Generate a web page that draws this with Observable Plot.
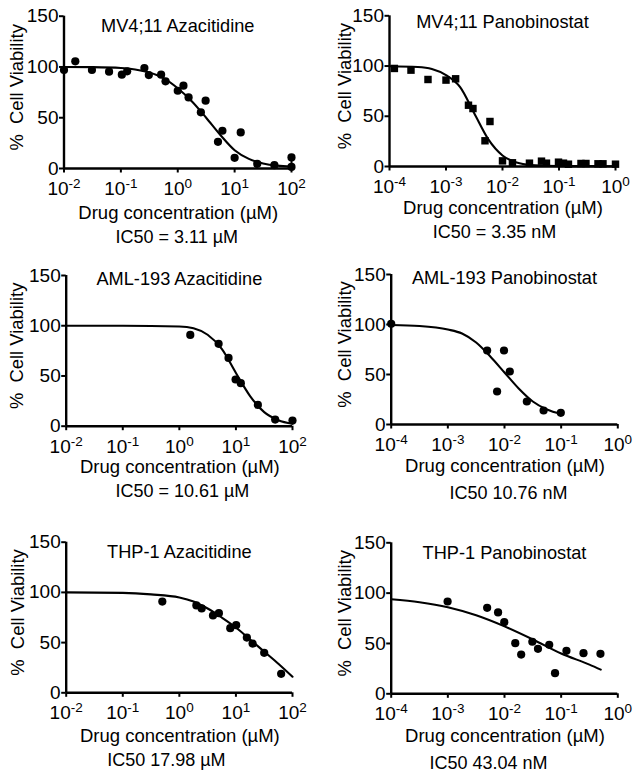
<!DOCTYPE html>
<html>
<head>
<meta charset="utf-8">
<script src="https://cdn.jsdelivr.net/npm/d3@7"></script>
<script src="https://cdn.jsdelivr.net/npm/@observablehq/plot@0.6"></script>
<style>
  html, body { margin: 0; padding: 0; background: #fff; }
  #fig { position: relative; width: 639px; height: 778px; overflow: hidden; background: #fff; }
  #fig > div { position: absolute; }
  svg { overflow: visible; }
</style>
</head>
<body>
<div id="fig"></div>
<script>
// ---------------- data ----------------
const titles = ["MV4;11 Azacitidine", "MV4;11 Panobinostat", "AML-193 Azacitidine",
                "AML-193 Panobinostat", "THP-1 Azacitidine", "THP-1 Panobinostat"];
const ic50Labels = ["IC50 = 3.11 µM", "IC50 = 3.35 nM", "IC50 = 10.61 µM",
                    "IC50 10.76 nM", "IC50 17.98 µM", "IC50 43.04 nM"];
const xLabel = "Drug concentration (µM)";
const yLabel = "%\u00a0 Cell Viability";
const yTicks = [0, 50, 100, 150];
const azaTicks = [0.01, 0.1, 1, 10, 100];
const azaTickExp = ["-2", "-1", "0", "1", "2"];
const panoTicks = [0.0001, 0.001, 0.01, 0.1, 1];
const panoTickExp = ["-4", "-3", "-2", "-1", "0"];

// MV4;11 Azacitidine
const mvAzaX = [0.01, 0.0158, 0.031, 0.062, 0.104, 0.129, 0.259, 0.31, 0.51, 0.61, 1.0, 1.26, 1.55, 2.55, 3.09, 5.1, 6.1, 10, 12.8, 25, 50, 100, 100];
const mvAzaY = [97, 105.6, 97, 95.4, 92.4, 95.7, 99, 92, 92.4, 85.9, 76.6, 81.6, 70, 55.3, 66.8, 26.3, 37.2, 10.5, 35.5, 4.6, 3.3, 10.9, 1.6];
const mvAzaFitX = [0.01, 0.0316, 0.1, 0.178, 0.316, 0.562, 1, 1.78, 3.16, 5.62, 10, 17.8, 31.6, 56.2, 100];
const mvAzaFitY = [100, 99.8, 99, 97.5, 94.5, 89, 79, 66, 50, 33, 18, 9.5, 5, 2.8, 2];
const mvAzaErr = [{x: 100, lo: 1.6, hi: 10.9}];

// MV4;11 Panobinostat
const mvPanoX = [0.000122, 0.00024, 0.00048, 0.001, 0.00148, 0.0025, 0.003, 0.0049, 0.006, 0.01, 0.015, 0.03, 0.049, 0.06, 0.098, 0.12, 0.147, 0.245, 0.3, 0.49, 0.6, 1.0];
const mvPanoY = [97.6, 95.9, 86.6, 86, 87.3, 61, 57.7, 25.6, 44.8, 5.6, 3.7, 3.3, 5.3, 3.3, 4.3, 3.3, 2.3, 3, 3, 2.7, 2.7, 2.3];
const mvPanoFitX = [0.0001, 0.000316, 0.000562, 0.001, 0.00178, 0.00316, 0.00562, 0.01, 0.0178, 0.0316, 0.1, 1];
const mvPanoFitY = [99.8, 99, 97, 91, 79, 53, 27, 11, 4, 1.5, 0.4, 0.3];

// AML-193 Azacitidine
const amlAzaX = [1.56, 4.94, 7.4, 9.86, 12.2, 24.4, 49.4, 100];
const amlAzaY = [90.9, 82, 68, 46.5, 42.8, 21.2, 6.6, 5.6];
const amlAzaFitX = [0.01, 0.1, 1, 1.78, 3.16, 5.62, 10, 17.8, 31.6, 56.2, 100];
const amlAzaFitY = [100, 100, 99.3, 97.5, 91, 77, 53, 30, 14, 6, 2.5];

// AML-193 Panobinostat
const amlPanoX = [0.0001, 0.00494, 0.0098, 0.0074, 0.0124, 0.0248, 0.049, 0.0986];
const amlPanoY = [100.7, 74, 74, 33, 53, 23, 14, 11.7];
const amlPanoFitX = [0.0001, 0.000316, 0.001, 0.00178, 0.00316, 0.00562, 0.01, 0.0178, 0.0316, 0.0562, 0.1];
const amlPanoFitY = [99.5, 98.5, 95, 91, 82, 68, 52, 36, 23, 15, 10.5];

// THP-1 Azacitidine
const thpAzaX = [0.5, 2.0, 2.48, 3.93, 5.0, 7.94, 10.1, 15.6, 19.7, 31.6, 63];
const thpAzaY = [90.9, 87, 84, 77, 79.3, 64.4, 67.4, 55, 49, 39.8, 18.9];
const thpAzaFitX = [0.01, 0.1, 0.316, 1, 1.78, 3.16, 5.62, 10, 17.8, 31.6, 56.2, 100];
const thpAzaFitY = [100, 99.5, 98, 95, 91, 84, 75, 65, 53, 41, 29, 16];

// THP-1 Panobinostat
const thpPanoX = [0.00099, 0.00494, 0.0077, 0.0099, 0.0155, 0.0197, 0.031, 0.039, 0.0616, 0.078, 0.124, 0.248, 0.494];
const thpPanoY = [91.7, 85.4, 80.8, 71.2, 50.3, 39, 51.7, 44.7, 48.7, 20.5, 42.7, 40.4, 39.7];
const thpPanoFitX = [0.0001, 0.000316, 0.001, 0.00316, 0.01, 0.0316, 0.1, 0.316, 0.5];
const thpPanoFitY = [94, 91, 86, 78, 67, 54, 40, 29, 24];

// ---------------- layout (positions / styles) ----------------
const FONT = "'Liberation Sans', Arial, Helvetica, sans-serif";
const layouts = [
  {left: 0,   top: 0,   width: 320, height: 250, fx0: 63.5,  fx1: 291,   fy0: 15.7,  fy1: 168,   titleDy: 16,  labDy: 50, icDy: 74.3, icDx: -1,  yLabDx: -47},
  {left: 320, top: 0,   width: 319, height: 250, fx0: 389,   fx1: 615,   fy0: 15.3,  fy1: 166,   titleDy: 12,  labDy: 47.3, icDy: 71.3, icDx: -8, yLabDx: -44},
  {left: 0,   top: 250, width: 320, height: 270, fx0: 65.7,  fx1: 292,   fy0: 275,   fy1: 425.7, titleDy: 9.8, labDy: 47, icDy: 71, icDx: 3,     yLabDx: -49},
  {left: 320, top: 250, width: 319, height: 270, fx0: 390.7, fx1: 617.3, fy0: 274,   fy1: 424,   titleDy: 9.8, labDy: 47.7, icDy: 74.3, icDx: 4, yLabDx: -45.7},
  {left: 0,   top: 520, width: 320, height: 258, fx0: 65.7,  fx1: 292,   fy0: 541.7, fy1: 692.3, titleDy: 15.3, labDy: 48.7, icDy: 72.7, icDx: -13, yLabDx: -48},
  {left: 320, top: 520, width: 319, height: 258, fx0: 390.7, fx1: 617.3, fy0: 542.3, fy1: 693.3, titleDy: 15.7, labDy: 48.4, icDy: 75, icDx: -16, yLabDx: -45.7}
];

const zip = (xs, ys) => xs.map((x, i) => ({x, y: ys[i]}));

const panels = [
  {pts: zip(mvAzaX, mvAzaY), fit: zip(mvAzaFitX, mvAzaFitY), ticks: azaTicks, exps: azaTickExp, symbol: "circle", err: mvAzaErr},
  {pts: zip(mvPanoX, mvPanoY), fit: zip(mvPanoFitX, mvPanoFitY), ticks: panoTicks, exps: panoTickExp, symbol: "square", err: []},
  {pts: zip(amlAzaX, amlAzaY), fit: zip(amlAzaFitX, amlAzaFitY), ticks: azaTicks, exps: azaTickExp, symbol: "circle", err: []},
  {pts: zip(amlPanoX, amlPanoY), fit: zip(amlPanoFitX, amlPanoFitY), ticks: panoTicks, exps: panoTickExp, symbol: "circle", err: []},
  {pts: zip(thpAzaX, thpAzaY), fit: zip(thpAzaFitX, thpAzaFitY), ticks: azaTicks, exps: azaTickExp, symbol: "circle", err: []},
  {pts: zip(thpPanoX, thpPanoY), fit: zip(thpPanoFitX, thpPanoFitY), ticks: panoTicks, exps: panoTickExp, symbol: "circle", err: []}
];

const fig = document.getElementById("fig");

panels.forEach((p, k) => {
  const L = layouts[k];
  const xmin = p.ticks[0], xmax = p.ticks[p.ticks.length - 1];
  const svg = Plot.plot({
    width: L.width,
    height: L.height,
    marginLeft: L.fx0 - L.left,
    marginRight: L.left + L.width - L.fx1,
    marginTop: L.fy0 - L.top,
    marginBottom: L.top + L.height - L.fy1,
    style: {fontFamily: FONT, fontSize: "19px", color: "#000", background: "transparent"},
    x: {type: "log", domain: [xmin, xmax]},
    y: {domain: [0, 150]},
    marks: [
      Plot.axisY({ticks: yTicks, tickSize: 4.5, tickPadding: 1, strokeWidth: 2,
                  tickFormat: d => String(d), label: null, fontSize: 19}),
      Plot.axisX({ticks: p.ticks, tickSize: 4.5, tickPadding: 8.5, strokeWidth: 2,
                  tickFormat: d => "10^" + p.exps[p.ticks.indexOf(d)], label: null, fontSize: 19}),
      Plot.ruleX([xmin], {strokeWidth: 2.4}),
      Plot.ruleY([0], {strokeWidth: 2.4}),
      Plot.line(p.fit, {x: "x", y: "y", curve: "monotone-x", strokeWidth: 2.1, stroke: "#000"}),
      Plot.ruleX(p.err, {x: "x", y1: "lo", y2: "hi", strokeWidth: 2, stroke: "#000"}),
      Plot.dot(p.pts, {x: "x", y: "y", r: p.symbol === "square" ? 4.2 : 4.1, fill: "#000", stroke: "none", symbol: p.symbol}),
      Plot.text([titles[k]], {text: d => d, frameAnchor: "top", lineAnchor: "bottom", dy: L.titleDy, fontSize: 18.2, fill: "#000"}),
      Plot.text([yLabel], {text: d => d, frameAnchor: "left", textAnchor: "middle", rotate: -90, lineAnchor: "middle", dx: L.yLabDx, dy: -5, fontSize: 18.4, fill: "#000"}),
      Plot.text([xLabel], {text: d => d, frameAnchor: "bottom", lineAnchor: "bottom", dy: L.labDy, dx: 0.5, fontSize: 18.5, fill: "#000"}),
      Plot.text([ic50Labels[k]], {text: d => d, frameAnchor: "bottom", lineAnchor: "bottom", dy: L.icDy, dx: L.icDx, fontSize: 18, fill: "#000"})
    ]
  });

  // render "10^n" tick labels as 10 with a superscript exponent
  svg.querySelectorAll('g[aria-label="x-axis tick label"] text').forEach(t => {
    const s = t.textContent;
    const [base, exp] = s.split("^");
    t.textContent = "";
    const ns = "http://www.w3.org/2000/svg";
    const b = document.createElementNS(ns, "tspan");
    b.textContent = base;
    const e = document.createElementNS(ns, "tspan");
    e.setAttribute("dy", "-7");
    e.setAttribute("font-size", "13.5");
    e.textContent = exp;
    t.appendChild(b);
    t.appendChild(e);
  });

  const holder = document.createElement("div");
  holder.style.left = L.left + "px";
  holder.style.top = L.top + "px";
  holder.appendChild(svg);
  fig.appendChild(holder);
});
</script>
</body>
</html>
